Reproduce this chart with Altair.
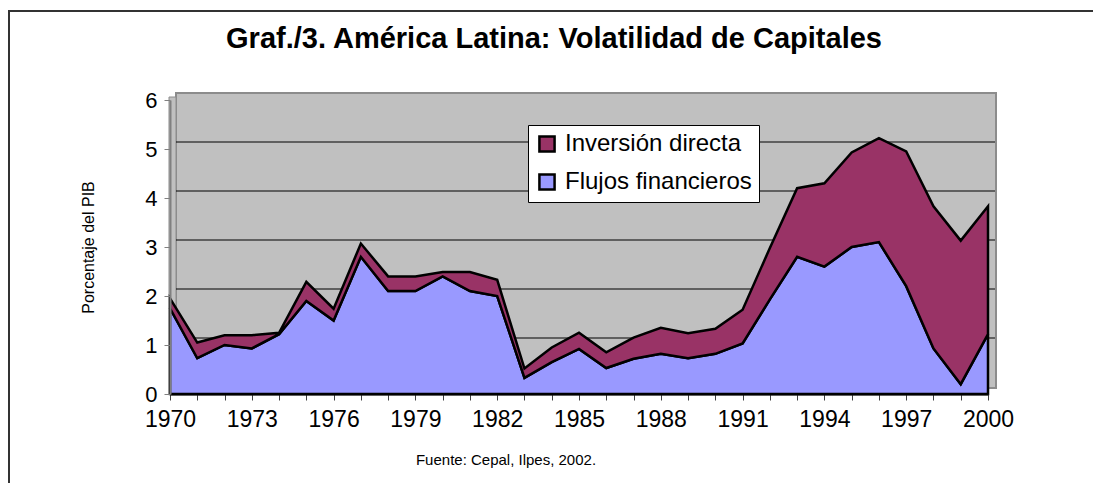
import altair as alt
import pandas as pd

years = list(range(1970, 2001))
flujos = [1.75, 0.73, 1.00, 0.93, 1.22, 1.90, 1.50, 2.80, 2.10, 2.10,
          2.40, 2.10, 2.00, 0.33, 0.65, 0.92, 0.53, 0.72, 0.82, 0.73,
          0.82, 1.03, 1.93, 2.80, 2.60, 3.00, 3.10, 2.20, 0.93, 0.20, 1.22]
inversion = [0.20, 0.32, 0.20, 0.27, 0.03, 0.39, 0.24, 0.27, 0.30, 0.30,
             0.09, 0.39, 0.33, 0.19, 0.30, 0.33, 0.32, 0.43, 0.53, 0.51,
             0.51, 0.69, 1.05, 1.40, 1.70, 1.93, 2.12, 2.75, 2.90, 2.93, 2.61]
series = ["Inversión directa", "Flujos financieros"]
colors = ["#993366", "#9999FF"]
grid_vals = [1, 2, 3, 4, 5]
y_ticks = [0, 1, 2, 3, 4, 5, 6]
title_text = "Graf./3. América Latina: Volatilidad de Capitales"
footer_text = "Fuente: Cepal, Ilpes, 2002."

rows = []
for i, yr in enumerate(years):
    rows.append({"anio": yr, "serie": "Flujos financieros", "valor": flujos[i], "orden": 0})
    rows.append({"anio": yr, "serie": "Inversión directa", "valor": inversion[i], "orden": 1})
df = pd.DataFrame(rows)

W, H = 818, 294
FONT = "Liberation Sans"

xscale = alt.Scale(domain=[1970, 2000], nice=False, zero=False)
yscale = alt.Scale(domain=[0, 6], nice=False)

yaxis = alt.Axis(values=y_ticks, grid=False, domainColor="#808080",
                 domainWidth=2, tickColor="#808080", tickSize=6,
                 labelFontSize=22, labelFont=FONT, labelColor="black",
                 labelPadding=7, titleFont=FONT, titleFontSize=16,
                 titleFontWeight="normal", titleColor="black",
                 titleX=-82, titleY=H / 2, titleAngle=-90,
                 titleBaseline="middle", titleAlign="center", zindex=1)
xaxis = alt.Axis(values=years, format="d",
                 labelExpr="(datum.value - 1970) % 3 == 0 ? datum.label : ''",
                 labelOverlap=False, labelFlush=False, grid=False,
                 domainColor="black", domainWidth=2, tickColor="#404040",
                 tickSize=6, labelFontSize=23, labelFont=FONT,
                 labelColor="black", labelPadding=8, zindex=1)

one = pd.DataFrame({"a": [0]})

# outer frame
frame = alt.Chart(one).mark_rect(
    fill="white", fillOpacity=0, stroke="#333333", strokeWidth=2, clip=False
).encode(x=alt.value(-161), x2=alt.value(960), y=alt.value(-89), y2=alt.value(400))

# back wall
wall = alt.Chart(one).mark_rect(
    fill="#C0C0C0", stroke="#8C8C8C", strokeWidth=2
).encode(x=alt.value(6), x2=alt.value(826), y=alt.value(-7), y2=alt.value(288))

side = alt.Chart(one).mark_rect(
    fill="#C0C0C0", stroke="#8C8C8C", strokeWidth=1
).encode(x=alt.value(-1), x2=alt.value(6), y=alt.value(-3), y2=alt.value(H))

grid = alt.Chart(pd.DataFrame({"g": grid_vals})).mark_rule(
    color="black", strokeWidth=1.2, yOffset=-7
).encode(y=alt.Y("g:Q", scale=yscale, title="Porcentaje del PIB", axis=yaxis),
         x=alt.value(6), x2=alt.value(825))

areas = alt.Chart(df).mark_area(
    stroke="black", strokeWidth=2.5, strokeJoin="miter", opacity=1
).encode(
    x=alt.X("anio:Q", scale=xscale, title=None, axis=xaxis),
    y=alt.Y("valor:Q", stack="zero", scale=yscale,
            title="Porcentaje del PIB", axis=yaxis),
    color=alt.Color("serie:N", scale=alt.Scale(domain=series, range=colors),
                    legend=alt.Legend(title=None, orient="none", legendX=358,
                                      legendY=25, fillColor="white",
                                      strokeColor="black", padding=7,
                                      symbolType="square", symbolSize=230,
                                      symbolStrokeColor="black",
                                      symbolStrokeWidth=2.5, symbolOpacity=1,
                                      labelFontSize=24, labelFont=FONT,
                                      labelColor="black", rowPadding=12,
                                      labelOffset=6, labelLimit=0)),
    order=alt.Order("orden:Q"),
)

title = alt.Chart(one).mark_text(
    text=title_text, font=FONT, fontSize=29, fontWeight="bold", color="black",
    align="center", baseline="middle", clip=False
).encode(x=alt.value(384), y=alt.value(-61))

footer = alt.Chart(one).mark_text(
    text=footer_text, font=FONT, fontSize=15, color="black",
    align="center", baseline="middle", clip=False
).encode(x=alt.value(336), y=alt.value(360))

chart = alt.layer(frame, wall, side, grid, areas, title, footer).properties(
    width=W, height=H,
    autosize="none",
    padding={"left": 162, "top": 92, "right": 105, "bottom": 89},
).configure_view(strokeWidth=0)

chart.save("out.html", embed_options={"renderer": "svg", "actions": False})
